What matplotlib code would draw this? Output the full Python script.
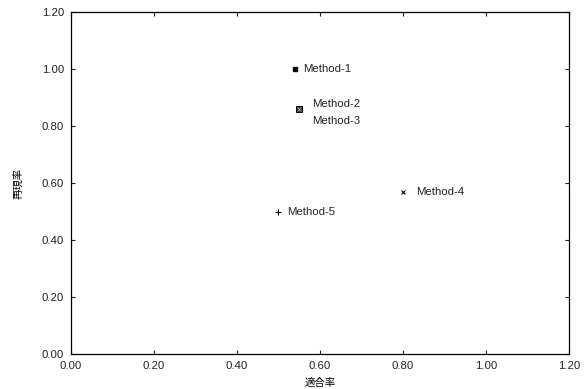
import matplotlib
matplotlib.use("Agg")
import matplotlib.pyplot as plt

plt.rcParams['font.family'] = ['Liberation Sans', 'Noto Sans CJK JP', 'DejaVu Sans']

methods = ["Method-1", "Method-2", "Method-3", "Method-4", "Method-5"]
precision = [0.54, 0.55, 0.55, 0.80, 0.50]
recall = [1.00, 0.86, 0.86, 0.57, 0.50]
ticks = [0.0, 0.2, 0.4, 0.6, 0.8, 1.0, 1.2]
tick_labels = ["0.00", "0.20", "0.40", "0.60", "0.80", "1.00", "1.20"]

fig = plt.figure(figsize=(5.87, 3.89), dpi=100)
ax = fig.add_axes([0.121, 0.090, 0.848, 0.879])

# Method-1: filled square
ax.plot(precision[0], recall[0], marker="s", ms=3.5, color="black", ls="none")
# Method-2: square with cross, Method-3 overlapping
ax.plot(precision[1], recall[1], marker="s", ms=4, mfc="#333333", mec="black", mew=0.7, ls="none")
ax.plot(precision[2], recall[2], marker="x", ms=3, color="#bbbbbb", mew=0.5, ls="none")
# Method-4: x
ax.plot(precision[3], recall[3], marker="x", ms=3.2, color="black", mew=0.8, ls="none")
# Method-5: plus
ax.plot(precision[4], recall[4], marker="+", ms=4, color="black", mew=0.8, ls="none")

offsets = [(6, 0), (9, 3.8), (9, -8.4), (9.4, 0), (6.5, 0)]
for name, x, y, off in zip(methods, precision, recall, offsets):
    ax.annotate(name, (x, y), xytext=off, textcoords="offset points",
                ha="left", va="center", fontsize=8.2, color="#222222")

ax.set_xlim(0, 1.2)
ax.set_ylim(0, 1.2)
ax.set_xticks(ticks)
ax.set_xticklabels(tick_labels)
ax.set_yticks(ticks)
ax.set_yticklabels(tick_labels)
ax.tick_params(direction="in", top=True, right=True, labelsize=8.2, length=3, width=0.8, colors="#222222")
ax.tick_params(axis="x", pad=5)
ax.tick_params(axis="y", pad=5)
for s in ax.spines.values():
    s.set_linewidth(0.9)
ax.set_xlabel("適合率", fontsize=7.5, labelpad=5, family=['Noto Sans CJK JP'])
ax.set_ylabel("再現率", fontsize=7.5, labelpad=13, family=['Noto Sans CJK JP'])

fig.savefig("out.png", dpi=100)
